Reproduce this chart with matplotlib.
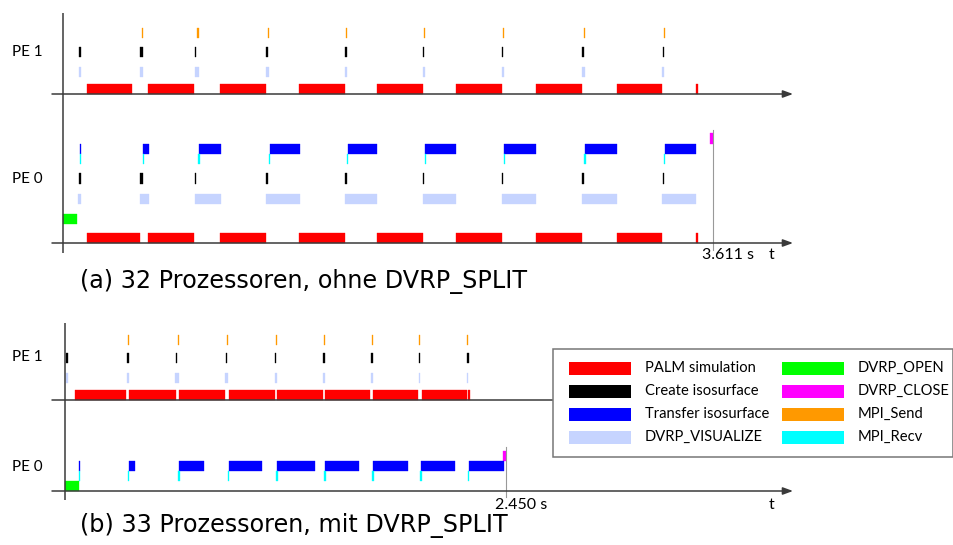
import matplotlib
matplotlib.use("Agg")
import matplotlib.pyplot as plt
from matplotlib.patches import Rectangle

# ---------------- data (times in seconds) ----------------
categories = ["PALM simulation", "Create isosurface", "Transfer isosurface", "DVRP_VISUALIZE",
              "DVRP_OPEN", "DVRP_CLOSE", "MPI_Send", "MPI_Recv"]
colors = ["#ff0000", "#000000", "#0000ff", "#c6d4ff",
          "#00ff00", "#ff00ff", "#ff9900", "#00ffff"]
pe_labels = ["PE 1", "PE 0"]
captions = ["(a) 32 Prozessoren, ohne DVRP_SPLIT", "(b) 33 Prozessoren, mit DVRP_SPLIT"]

# Panel (a): 32 processors, without DVRP_SPLIT
a_end = 3.611
a_pe1_palm = [(0.131, 0.383), (0.473, 0.730), (0.871, 1.126), (1.311, 1.564), (1.745, 1.998),
              (2.185, 2.439), (2.627, 2.886), (3.077, 3.329), (3.516, 3.526)]
a_pe1_create = [(0.089, 0.098), (0.427, 0.443), (0.732, 0.741), (1.128, 1.137), (1.566, 1.575),
                (1.998, 2.007), (2.438, 2.447), (2.886, 2.895), (3.331, 3.340)]
a_pe1_vis = [(0.087, 0.098), (0.427, 0.445), (0.732, 0.753), (1.126, 1.144), (1.566, 1.577),
             (1.998, 2.009), (2.439, 2.448), (2.886, 2.899), (3.329, 3.340)]
a_pe1_send = [(0.441, 0.447), (0.747, 0.753), (1.141, 1.147), (1.574, 1.580), (2.005, 2.011),
              (2.445, 2.451), (2.894, 2.900), (3.338, 3.344)]

a_pe0_palm = [(0.131, 0.425), (0.473, 0.730), (0.871, 1.126), (1.311, 1.564), (1.745, 1.998),
              (2.185, 2.439), (2.627, 2.886), (3.077, 3.329), (3.516, 3.526)]
a_pe0_create = [(0.089, 0.098), (0.427, 0.443), (0.732, 0.741), (1.128, 1.137), (1.566, 1.575),
                (1.998, 2.007), (2.438, 2.447), (2.886, 2.895), (3.331, 3.340)]
a_pe0_vis = [(0.085, 0.098), (0.427, 0.475), (0.732, 0.875), (1.126, 1.314), (1.564, 1.745),
             (1.998, 2.185), (2.439, 2.627), (2.886, 3.077), (3.329, 3.518)]
a_pe0_transfer = [(0.094, 0.100), (0.445, 0.475), (0.754, 0.875), (1.148, 1.314), (1.581, 1.745),
                  (2.013, 2.185), (2.451, 2.627), (2.901, 3.077), (3.344, 3.518)]
a_pe0_recv = [(0.093, 0.100), (0.442, 0.449), (0.751, 0.761), (1.145, 1.152), (1.577, 1.584),
              (2.009, 2.016), (2.448, 2.455), (2.896, 2.903), (3.340, 3.347)]
a_pe0_open = [(0.000, 0.078)]
a_pe0_close = [(3.594, 3.611)]

# Panel (b): 33 processors, with DVRP_SPLIT
b_end = 2.450
b_pe1_palm = [(0.056, 0.338), (0.358, 0.615), (0.636, 0.891), (0.911, 1.164), (1.180, 1.431),
              (1.445, 1.696), (1.712, 1.963), (1.981, 2.233), (2.241, 2.251)]
b_pe1_create = [(0.006, 0.015), (0.344, 0.353), (0.614, 0.623), (0.892, 0.901), (1.165, 1.174),
                (1.434, 1.443), (1.700, 1.709), (1.965, 1.974), (2.233, 2.242)]
b_pe1_vis = [(0.006, 0.017), (0.342, 0.358), (0.612, 0.633), (0.891, 0.908), (1.164, 1.175),
             (1.434, 1.444), (1.698, 1.709), (1.966, 1.974), (2.231, 2.241)]
b_pe1_send = [(0.351, 0.357), (0.626, 0.632), (0.902, 0.908), (1.170, 1.176), (1.439, 1.445),
              (1.703, 1.709), (1.968, 1.974), (2.235, 2.241)]

b_pe0_transfer = [(0.078, 0.084), (0.356, 0.390), (0.636, 0.770), (0.911, 1.095), (1.179, 1.388),
                  (1.446, 1.631), (1.711, 1.903), (1.978, 2.164), (2.244, 2.439)]
b_pe0_recv = [(0.077, 0.085), (0.349, 0.357), (0.630, 0.638), (0.905, 0.913), (1.174, 1.182),
              (1.441, 1.449), (1.706, 1.714), (1.974, 1.982), (2.239, 2.247)]
b_pe0_open = [(0.000, 0.078)]
b_pe0_close = [(2.433, 2.450)]

# ---------------- layout (pixels) ----------------
W, H = 954, 545
PX_PER_S = 180.0
LABEL_FONT = ["Lato", "DejaVu Sans"]
AXIS_COLOR = "#3a3a3a"

fig = plt.figure(figsize=(W / 100, H / 100), dpi=100)


def panel_axes(x0):
    ax = fig.add_axes([0, 0, 1, 1])
    ax.set_xlim(-x0 / PX_PER_S, (W - x0) / PX_PER_S)
    ax.set_ylim(H, 0)
    ax.axis("off")
    ax.patch.set_alpha(0)
    return ax


def draw(ax, intervals, row, cat):
    color = colors[categories.index(cat)]
    ax.broken_barh([(s, e - s) for s, e in intervals], (row[0], row[1] - row[0]),
                   facecolors=color, edgecolors=color, linewidth=0.25)


def frame(ax, x0, top, bottom, baselines, end, end_top, end_bot, label_y):
    px = lambda x: (x - x0) / PX_PER_S
    ax.plot([0, 0], [top, bottom], color=AXIS_COLOR, lw=1.1, solid_capstyle="butt")
    for yb in baselines:
        ax.annotate("", xy=(px(793), yb), xytext=(px(52), yb),
                    arrowprops=dict(arrowstyle="-|>,head_length=0.6,head_width=0.22",
                                    color=AXIS_COLOR, lw=1.1, mutation_scale=10,
                                    shrinkA=0, shrinkB=0))
    ax.plot([end, end], [end_top, end_bot], color="#999999", lw=0.8)
    ax.annotate(f"{end:.3f} s", xy=(end, label_y), xytext=(-8, 0), textcoords="offset points",
                ha="left", va="center", fontsize=11.5, family=LABEL_FONT)
    ax.text(px(772), label_y, "t", ha="center", va="center", fontsize=11.5, family=LABEL_FONT)


# ---- panel (a)
axa = panel_axes(63)
frame(axa, 63, 13, 253, [94, 243], a_end, 130, 250, 255)
r1 = {"send": (28, 38), "create": (47, 57), "vis": (67, 77), "palm": (84, 94)}
draw(axa, a_pe1_send, r1["send"], "MPI_Send")
draw(axa, a_pe1_create, r1["create"], "Create isosurface")
draw(axa, a_pe1_vis, r1["vis"], "DVRP_VISUALIZE")
draw(axa, a_pe1_palm, r1["palm"], "PALM simulation")
r0 = {"close": (133, 144), "transfer": (144, 154), "recv": (154, 164), "create": (173, 184),
      "vis": (194, 204), "open": (214, 224), "palm": (233, 243)}
draw(axa, a_pe0_close, r0["close"], "DVRP_CLOSE")
draw(axa, a_pe0_transfer, r0["transfer"], "Transfer isosurface")
draw(axa, a_pe0_recv, r0["recv"], "MPI_Recv")
draw(axa, a_pe0_create, r0["create"], "Create isosurface")
draw(axa, a_pe0_vis, r0["vis"], "DVRP_VISUALIZE")
draw(axa, a_pe0_open, r0["open"], "DVRP_OPEN")
draw(axa, a_pe0_palm, r0["palm"], "PALM simulation")

# ---- panel (b)
axb = panel_axes(65)
frame(axb, 65, 323, 500, [400, 491], b_end, 447, 497, 505)
s1 = {"send": (335, 345), "create": (353, 363), "vis": (373, 383), "palm": (390, 400)}
draw(axb, b_pe1_send, s1["send"], "MPI_Send")
draw(axb, b_pe1_create, s1["create"], "Create isosurface")
draw(axb, b_pe1_vis, s1["vis"], "DVRP_VISUALIZE")
draw(axb, b_pe1_palm, s1["palm"], "PALM simulation")
s0 = {"close": (451, 461), "transfer": (461, 471), "recv": (471, 481), "open": (481, 491)}
draw(axb, b_pe0_close, s0["close"], "DVRP_CLOSE")
draw(axb, b_pe0_transfer, s0["transfer"], "Transfer isosurface")
draw(axb, b_pe0_recv, s0["recv"], "MPI_Recv")
draw(axb, b_pe0_open, s0["open"], "DVRP_OPEN")

# ---- decorations in pixel coordinates
deco = fig.add_axes([0, 0, 1, 1])
deco.set_xlim(0, W)
deco.set_ylim(H, 0)
deco.axis("off")
deco.patch.set_alpha(0)

for lab, y in zip(pe_labels + pe_labels, [52, 179, 357, 467]):
    deco.text(12, y, lab, ha="left", va="center", fontsize=11, family=LABEL_FONT)

deco.text(80, 281, captions[0], ha="left", va="center", fontsize=17.2, family="DejaVu Sans")
deco.text(80, 525, captions[1], ha="left", va="center", fontsize=17.2, family="DejaVu Sans")

# legend box
deco.add_patch(Rectangle((553, 349), 400, 108, facecolor="white", edgecolor="#777777", lw=1.1))
for i, (cat, col) in enumerate(zip(categories, colors)):
    c, r = divmod(i, 4)
    xp = 569 + c * 213
    yc = 368 + r * 23
    deco.add_patch(Rectangle((xp, yc - 6.5), 62, 13, facecolor=col, edgecolor="none"))
    deco.text(xp + 76, yc, cat, ha="left", va="center", fontsize=10.6, family=LABEL_FONT)

fig.savefig("out.png", dpi=100)
